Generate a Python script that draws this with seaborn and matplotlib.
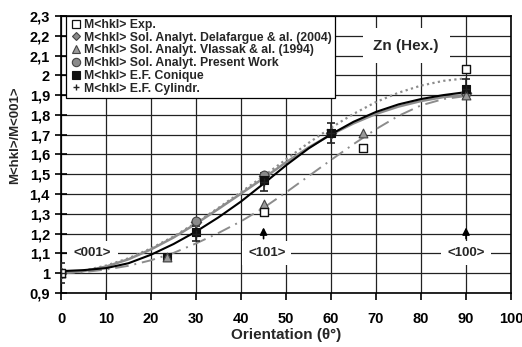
import matplotlib
matplotlib.use("Agg")
import matplotlib.pyplot as plt
import seaborn as sns
import pandas as pd
from matplotlib.lines import Line2D

sns.set_theme(style="white")
plt.rcParams['font.family'] = ['Liberation Sans', 'DejaVu Sans']
plt.rcParams['font.weight'] = 'bold'

# ---- curves ----
curve_x = [0, 5, 10, 15, 20, 25, 30, 35, 40, 45, 50, 55, 60, 65, 70, 75, 80, 85, 90]
curve_conique = [1.010, 1.015, 1.025, 1.050, 1.093, 1.147, 1.210, 1.282, 1.362, 1.452, 1.545,
                 1.630, 1.702, 1.765, 1.815, 1.853, 1.880, 1.900, 1.915]
curve_present = [1.000, 1.010, 1.033, 1.070, 1.120, 1.180, 1.250, 1.325, 1.402, 1.480, 1.560,
                 1.635, 1.700, 1.757, 1.805, 1.842, 1.870, 1.890, 1.900]
curve_delaf = [1.000, 1.012, 1.038, 1.075, 1.125, 1.185, 1.255, 1.330, 1.410, 1.490, 1.575,
               1.658, 1.735, 1.805, 1.865, 1.912, 1.948, 1.972, 1.985]
curve_vlassak = [1.000, 1.005, 1.018, 1.037, 1.065, 1.102, 1.150, 1.203, 1.262, 1.330, 1.408,
                 1.490, 1.572, 1.652, 1.728, 1.795, 1.848, 1.880, 1.895]

# ---- markers ----
exp_x = [0, 45, 67, 90]
exp_y = [1.00, 1.31, 1.63, 2.03]
delaf_x = [0, 30, 45, 60, 90]
delaf_y = [1.00, 1.26, 1.49, 1.71, 1.91]
vlas_x = [0, 23.5, 45, 67, 90]
vlas_y = [1.00, 1.08, 1.35, 1.71, 1.90]
pres_x = [0, 30, 45, 60, 90]
pres_y = [1.00, 1.265, 1.495, 1.71, 1.91]
con_x = [0, 23.5, 30, 45, 60, 90]
con_y = [1.00, 1.08, 1.21, 1.47, 1.71, 1.93]
cyl_x = [0, 30, 45, 60, 90]
cyl_y = [1.00, 1.20, 1.46, 1.71, 1.93]
cyl_err = [0.05, 0.04, 0.045, 0.05, 0.05]

legend_labels = ["M<hkl> Exp.",
                 "M<hkl> Sol. Analyt. Delafargue & al. (2004)",
                 "M<hkl> Sol. Analyt. Vlassak & al. (1994)",
                 "M<hkl> Sol. Analyt. Present Work",
                 "M<hkl> E.F. Conique",
                 "M<hkl> E.F. Cylindr."]

xticks = [0, 10, 20, 30, 40, 50, 60, 70, 80, 90, 100]
yticks = [0.9, 1.0, 1.1, 1.2, 1.3, 1.4, 1.5, 1.6, 1.7, 1.8, 1.9, 2.0, 2.1, 2.2, 2.3]
ytick_labels = ["0,9", "1", "1,1", "1,2", "1,3", "1,4", "1,5", "1,6", "1,7", "1,8",
                "1,9", "2", "2,1", "2,2", "2,3"]

fig = plt.figure(figsize=(5.22, 3.47), dpi=100)
ax = fig.add_axes([0.117, 0.156, 0.862, 0.798])

cdf = pd.DataFrame({"x": curve_x, "con": curve_conique, "pres": curve_present,
                    "delaf": curve_delaf, "vlas": curve_vlassak})

sns.lineplot(data=cdf, x="x", y="delaf", ax=ax, color="#8c8c8c", lw=1.6,
             linestyle=(0, (1, 1.5)), zorder=4)
sns.lineplot(data=cdf, x="x", y="vlas", ax=ax, color="#8c8c8c", lw=1.4,
             linestyle=(0, (7, 3, 1, 3)), zorder=4)
sns.lineplot(data=cdf, x="x", y="pres", ax=ax, color="#8c8c8c", lw=1.8, zorder=4)
sns.lineplot(data=cdf, x="x", y="con", ax=ax, color="black", lw=1.5, zorder=5)

ax.errorbar(cyl_x, cyl_y, yerr=cyl_err, fmt='none', ecolor='#222222', elinewidth=1.2,
            capsize=3, capthick=1.2, zorder=6)

ms = 40
sns.scatterplot(x=delaf_x, y=delaf_y, ax=ax, marker='D', s=28, color='#8a8a8a',
                edgecolor='#444444', linewidth=0.8, zorder=7)
sns.scatterplot(x=pres_x, y=pres_y, ax=ax, marker='o', s=ms, color='#8a8a8a',
                edgecolor='#444444', linewidth=0.8, zorder=7)
sns.scatterplot(x=con_x, y=con_y, ax=ax, marker='s', s=ms, color='#111111',
                edgecolor='#111111', linewidth=0.8, zorder=7)
sns.scatterplot(x=vlas_x, y=vlas_y, ax=ax, marker='^', s=ms, color='#9a9a9a',
                edgecolor='#444444', linewidth=0.8, zorder=8)
sns.scatterplot(x=exp_x, y=exp_y, ax=ax, marker='s', s=ms, color='white',
                edgecolor='#111111', linewidth=1.0, zorder=8)
sns.scatterplot(x=cyl_x, y=cyl_y, ax=ax, marker='+', s=30, color='#222222',
                linewidth=1.0, zorder=9)

ax.set_xlim(0, 100)
ax.set_ylim(0.9, 2.3)
ax.set_xticks(xticks)
ax.set_xticklabels([str(t) for t in xticks], fontsize=10.5, fontweight='bold')
ax.set_yticks(yticks)
ax.set_yticklabels(ytick_labels, fontsize=10.5, fontweight='bold')
ax.tick_params(axis='y', direction='inout', length=8, width=1.2, colors='black',
               pad=4, left=True)
ax.tick_params(axis='x', direction='out', length=5, width=1.2, colors='black',
               pad=9, bottom=True)
ax.grid(True, color='#222222', lw=0.9)
ax.set_axisbelow(True)
for sp in ax.spines.values():
    sp.set_color('black')
    sp.set_linewidth(1.2)
    sp.set_visible(True)

ax.set_xlabel("Orientation (θ°)", fontsize=11, fontweight='bold', labelpad=1)
ax.set_ylabel("M<hkl>/M<001>", fontsize=9.5, fontweight='bold')
ax.yaxis.set_label_coords(-0.088, 0.57)

ax.text(7, 1.1, "<001>", ha='center', va='center', fontsize=9.5, fontweight='bold',
        bbox=dict(facecolor='white', edgecolor='none', boxstyle='square,pad=0.5'), zorder=3)
ax.text(45.7, 1.1, "<101>", ha='center', va='center', fontsize=9.5, fontweight='bold',
        bbox=dict(facecolor='white', edgecolor='none', boxstyle='square,pad=0.45'), zorder=3)
ax.text(90, 1.1, "<100>", ha='center', va='center', fontsize=9.5, fontweight='bold',
        bbox=dict(facecolor='white', edgecolor='none', boxstyle='square,pad=0.45'), zorder=3)
ax.text(76.7, 2.15, "Zn (Hex.)", ha='center', va='center', fontsize=11, fontweight='bold',
        bbox=dict(facecolor='white', edgecolor='none', boxstyle='square,pad=0.7'), zorder=3)

for xa in [45, 90]:
    ax.annotate("", xy=(xa, 1.245), xytext=(xa, 1.16),
                arrowprops=dict(arrowstyle='-|>,head_length=0.35,head_width=0.18',
                                color='black', lw=1.2), zorder=3)

handles = [
    Line2D([], [], ls='none', marker='s', ms=6, mfc='white', mec='#111111', mew=0.9),
    Line2D([], [], ls='none', marker='D', ms=4.5, mfc='#8a8a8a', mec='#444444', mew=0.8),
    Line2D([], [], ls='none', marker='^', ms=6, mfc='#9a9a9a', mec='#444444', mew=0.8),
    Line2D([], [], ls='none', marker='o', ms=6, mfc='#8a8a8a', mec='#444444', mew=0.8),
    Line2D([], [], ls='none', marker='s', ms=6, mfc='#111111', mec='#111111', mew=0.8),
    Line2D([], [], ls='none', marker='+', ms=5, mec='#222222', mew=1.0),
]
leg = ax.legend(handles, legend_labels, loc='upper left', bbox_to_anchor=(0.011, 1.0),
                prop={'weight': 'bold', 'size': 8.8}, frameon=True,
                fancybox=False, framealpha=1, edgecolor='black', borderpad=0.25,
                labelspacing=0.06, handletextpad=0.1, handlelength=1.1, borderaxespad=0)
leg.get_frame().set_linewidth(0.9)
leg.set_zorder(10)

fig.savefig("out.png", dpi=100)
